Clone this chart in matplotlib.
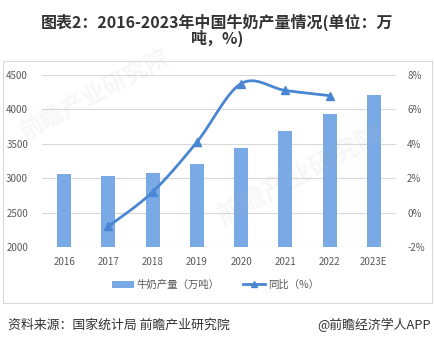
import numpy as np
import matplotlib.pyplot as plt
from matplotlib.patches import Rectangle

plt.rcParams['font.family'] = ['Noto Sans CJK SC', 'DejaVu Sans']

years = ['2016', '2017', '2018', '2019', '2020', '2021', '2022', '2023E']
output = [3064, 3039, 3075, 3201, 3440, 3683, 3932, 4214]  # 万吨
yoy_years = ['2017', '2018', '2019', '2020', '2021', '2022']
yoy = [-0.8, 1.2, 4.1, 7.5, 7.1, 6.8]  # %

BAR_COLOR = '#7AAAE6'
LINE_COLOR = '#4A86D2'
TEXT_COLOR = '#595959'


def smooth_curve(x, y, steps=30):
    # cubic bezier through the points (catmull-rom style tangents)
    x = np.asarray(x, float)
    y = np.asarray(y, float)
    px = np.concatenate([[x[0]], x, [x[-1]]])
    py = np.concatenate([[y[0]], y, [y[-1]]])
    xs, ys = [], []
    t = np.linspace(0, 1, steps)
    for i in range(1, len(px) - 2):
        p0 = np.array([px[i], py[i]])
        p3 = np.array([px[i + 1], py[i + 1]])
        c1 = p0 + (np.array([px[i + 1], py[i + 1]]) - np.array([px[i - 1], py[i - 1]])) / 6
        c2 = p3 - (np.array([px[i + 2], py[i + 2]]) - np.array([px[i], py[i]])) / 6
        pts = ((1 - t) ** 3)[:, None] * p0 + (3 * (1 - t) ** 2 * t)[:, None] * c1 \
            + (3 * (1 - t) * t ** 2)[:, None] * c2 + (t ** 3)[:, None] * p3
        xs.extend(pts[:, 0])
        ys.extend(pts[:, 1])
    return np.array(xs), np.array(ys)


fig = plt.figure(figsize=(4.35, 3.46), dpi=100)

# outer frame of the chart area
fig.patches.append(Rectangle((3 / 435, 1 - 303 / 346), 429 / 435, 242 / 346,
                             transform=fig.transFigure, fill=False,
                             edgecolor='#d9d9d9', linewidth=0.8))

fig.text(0.5, 1 - 22 / 346, '图表2：2016-2023年中国牛奶产量情况(单位：万',
         ha='center', va='center', fontsize=11.5, fontweight='bold', color='#333333')
fig.text(0.5, 1 - 38.5 / 346, '吨，%)', ha='center', va='center',
         fontsize=11.5, fontweight='bold', color='#333333')

ax = fig.add_axes([42 / 435, 1 - 247 / 346, 354 / 435, 172 / 346])
x = np.arange(len(years))
bars = ax.bar(x, output, width=0.32, color=BAR_COLOR, zorder=2, label='牛奶产量（万吨）')
ax.set_ylim(2000, 4500)
ax.set_yticks(range(2000, 4501, 500))
ax.set_xlim(-0.5, len(years) - 0.5)
ax.set_xticks(x)
ax.set_xticklabels(years)
ax.grid(axis='y', color='#d9d9d9', linewidth=0.8, zorder=0)
ax.set_axisbelow(True)
for s in ax.spines.values():
    s.set_visible(False)
ax.tick_params(length=0, labelsize=7, colors=TEXT_COLOR, pad=7)
ax.tick_params(axis='y', pad=10)

ax2 = ax.twinx()
lx = [years.index(y) for y in yoy_years]
sx, sy = smooth_curve(lx, yoy)
ax2.plot(sx, sy, color=LINE_COLOR, linewidth=2, zorder=3, solid_capstyle='round')
ax2.plot(lx, yoy, linestyle='none', marker='^', markersize=5.5, color=LINE_COLOR, zorder=4)
ax2.set_ylim(-2, 8)
ax2.set_yticks(range(-2, 9, 2))
ax2.set_yticklabels([f'{v}%' for v in range(-2, 9, 2)])
for s in ax2.spines.values():
    s.set_visible(False)
ax2.tick_params(length=0, labelsize=7, colors=TEXT_COLOR, pad=8)

line_handle = plt.Line2D([], [], color=LINE_COLOR, linewidth=2, marker='^', markersize=5)
fig.legend([bars, line_handle], ['牛奶产量（万吨）', '同比（%）'],
           loc='center', bbox_to_anchor=(0.495, 1 - 285 / 346), ncol=2, frameon=False,
           fontsize=7.5, labelcolor=TEXT_COLOR, handlelength=2.1, columnspacing=2.2,
           handletextpad=0.3)

# faint watermark
for wx, wy, fs in [(95 / 435, 1 - 95 / 346, 17), (300 / 435, 1 - 175 / 346, 19)]:
    fig.text(wx, wy, '前瞻产业研究院', rotation=28, ha='center', va='center',
             fontsize=fs, fontweight='bold', color='#b0b0b0', alpha=0.1, zorder=0)

fig.text(8 / 435, 1 - 325 / 346, '资料来源：国家统计局 前瞻产业研究院', ha='left', va='center',
         fontsize=9.3, color='#333333')
fig.text(431 / 435, 1 - 325 / 346, '@前瞻经济学人APP', ha='right', va='center',
         fontsize=9.3, color='#333333')

fig.savefig('out.png', dpi=100)
